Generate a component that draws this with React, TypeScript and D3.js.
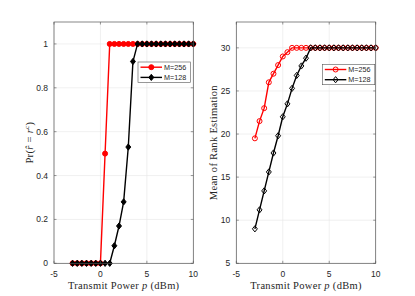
import * as d3 from "d3";

const powerDbm = [-3, -2.5, -2, -1.5, -1, -0.5, 0, 0.5, 1, 1.5, 2, 2.5, 3, 3.5, 4, 4.5, 5, 5.5, 6, 6.5, 7, 7.5, 8, 8.5, 9, 9.5, 10];

// probability of correct rank
const probM256 = [0, 0, 0, 0, 0, 0, 0, 0.5, 1, 1, 1, 1, 1, 1, 1, 1, 1, 1, 1, 1, 1, 1, 1, 1, 1, 1, 1];
const probM128 = [0, 0, 0, 0, 0, 0, 0, 0, 0, 0.08, 0.17, 0.28, 0.53, 0.92, 1, 1, 1, 1, 1, 1, 1, 1, 1, 1, 1, 1, 1];

// mean of rank estimation
const meanM256 = [19.5, 21.5, 23, 26, 27, 28, 29, 29.5, 30, 30, 30, 30, 30, 30, 30, 30, 30, 30, 30, 30, 30, 30, 30, 30, 30, 30, 30];
const meanM128 = [9, 11.2, 13.4, 15.6, 17.8, 19.8, 22, 23.5, 25.3, 26.8, 27.9, 28.8, 30, 30, 30, 30, 30, 30, 30, 30, 30, 30, 30, 30, 30, 30, 30];

const xTicks = [-5, 0, 5, 10];
const probTicks = [0, 0.2, 0.4, 0.6, 0.8, 1];
const meanTicks = [5, 10, 15, 20, 25, 30];
const seriesNames = ["M=256", "M=128"];

const W = 415;
const H = 296;
const top = 22;
const bottom = 263.3;
const axisColor = "#262626";
const boxColor = "#555";
const gridColor = "#e6e6e6";

interface PanelProps {
  left: number;
  right: number;
  yDomain: [number, number];
  yTicks: number[];
  red: number[];
  black: number[];
  filled: boolean;
  legendX: number;
  legendY: number;
  yLabel: React.ReactNode;
  yLabelX: number;
}

function Panel({ left, right, yDomain, yTicks, red, black, filled, legendX, legendY, yLabel, yLabelX }: PanelProps) {
  const x = d3.scaleLinear().domain([-5, 10]).range([left, right]);
  const y = d3.scaleLinear().domain(yDomain).range([bottom, top]);
  const line = d3.line<number>()
    .x((_, i) => x(powerDbm[i]))
    .y(d => y(d));

  const diamond = (cx: number, cy: number, s: number) =>
    `M${cx},${cy - s}L${cx + s * 0.8},${cy}L${cx},${cy + s}L${cx - s * 0.8},${cy}Z`;

  const tickLen = 2.5;

  return (
    <g>
      {/* grid */}
      {xTicks.map(t => (
        <line key={"gx" + t} x1={x(t)} x2={x(t)} y1={top} y2={bottom} stroke={gridColor} strokeWidth={0.6} />
      ))}
      {yTicks.map(t => (
        <line key={"gy" + t} x1={left} x2={right} y1={y(t)} y2={y(t)} stroke={gridColor} strokeWidth={0.6} />
      ))}

      {/* series */}
      <path d={line(red) ?? ""} fill="none" stroke="#ff0000" strokeWidth={1.4} />
      {red.map((v, i) => (
        <circle key={"r" + i} cx={x(powerDbm[i])} cy={y(v)} r={2.5}
          fill={filled ? "#ff0000" : "none"} stroke="#ff0000" strokeWidth={1} />
      ))}
      <path d={line(black) ?? ""} fill="none" stroke="#000" strokeWidth={1.4} />
      {black.map((v, i) => (
        <path key={"b" + i} d={diamond(x(powerDbm[i]), y(v), 3.1)}
          fill={filled ? "#000" : "none"} stroke="#000" strokeWidth={1} />
      ))}

      {/* box and ticks */}
      <rect x={left} y={top} width={right - left} height={bottom - top} fill="none" stroke={boxColor} strokeWidth={0.7} />
      {xTicks.map(t => (
        <g key={"tx" + t}>
          <line x1={x(t)} x2={x(t)} y1={bottom} y2={bottom - tickLen} stroke={boxColor} strokeWidth={0.6} />
          <line x1={x(t)} x2={x(t)} y1={top} y2={top + tickLen} stroke={boxColor} strokeWidth={0.6} />
          <text x={x(t)} y={276.5} textAnchor="middle" fontSize={8.5} fill={axisColor}
            fontFamily="'Liberation Sans', Arial, sans-serif">{String(t)}</text>
        </g>
      ))}
      {yTicks.map(t => (
        <g key={"ty" + t}>
          <line x1={left} x2={left + tickLen} y1={y(t)} y2={y(t)} stroke={boxColor} strokeWidth={0.6} />
          <line x1={right} x2={right - tickLen} y1={y(t)} y2={y(t)} stroke={boxColor} strokeWidth={0.6} />
          <text x={left - 6} y={y(t) + 3} textAnchor="end" fontSize={8.5} fill={axisColor}
            fontFamily="'Liberation Sans', Arial, sans-serif">{String(t)}</text>
        </g>
      ))}

      {/* x label */}
      <text x={(left + right) / 2} y={288.5} textAnchor="middle" fontSize={10.5} letterSpacing={0.3} fill={axisColor}
        fontFamily="'Liberation Serif', 'Times New Roman', serif">
        Transmit Power <tspan fontStyle="italic">p</tspan> (dBm)
      </text>
      {/* y label */}
      <text transform={`translate(${yLabelX},${(top + bottom) / 2}) rotate(-90)`} textAnchor="middle"
        fontSize={10.5} letterSpacing={0.3} fill={axisColor} fontFamily="'Liberation Serif', 'Times New Roman', serif">
        {yLabel}
      </text>

      {/* legend */}
      <g transform={`translate(${legendX},${legendY})`}>
        <rect x={0} y={0} width={52.5} height={20.4} fill="#fff" stroke={boxColor} strokeWidth={0.6} />
        {seriesNames.map((name, i) => {
          const ly = 5.2 + i * 10.2;
          const color = i === 0 ? "#ff0000" : "#000";
          return (
            <g key={name}>
              <line x1={2.5} x2={24} y1={ly} y2={ly} stroke={color} strokeWidth={1.4} />
              {i === 0 ? (
                <circle cx={13.3} cy={ly} r={2.5} fill={filled ? color : "none"} stroke={color} strokeWidth={1} />
              ) : (
                <path d={diamond(13.3, ly, 3.1)} fill={filled ? color : "none"} stroke={color} strokeWidth={1} />
              )}
              <text x={26} y={ly + 2.5} fontSize={7.2} fill={axisColor}
                fontFamily="'Liberation Sans', Arial, sans-serif">{name}</text>
            </g>
          );
        })}
      </g>
    </g>
  );
}

export default function App() {
  return (
    <svg width={W} height={H} viewBox={`0 0 ${W} ${H}`}
      style={{ position: "absolute", left: 0, top: 0, background: "#fff" }}>
      <rect width={W} height={H} fill="#fff" />
      <Panel left={54} right={193.3} yDomain={[0, 1.1]} yTicks={probTicks}
        red={probM256} black={probM128} filled={true}
        legendX={138} legendY={62}
        yLabelX={33}
        yLabel={<>Pr(<tspan fontStyle="italic">r̂</tspan> = <tspan fontStyle="italic">r</tspan><tspan fontSize={7} dy={-4}>c</tspan><tspan dy={4}>)</tspan></>} />
      <Panel left={236.3} right={375.7} yDomain={[5, 33]} yTicks={meanTicks}
        red={meanM256} black={meanM128} filled={false}
        legendX={322.3} legendY={64.3}
        yLabelX={217}
        yLabel="Mean of Rank Estimation" />
    </svg>
  );
}
